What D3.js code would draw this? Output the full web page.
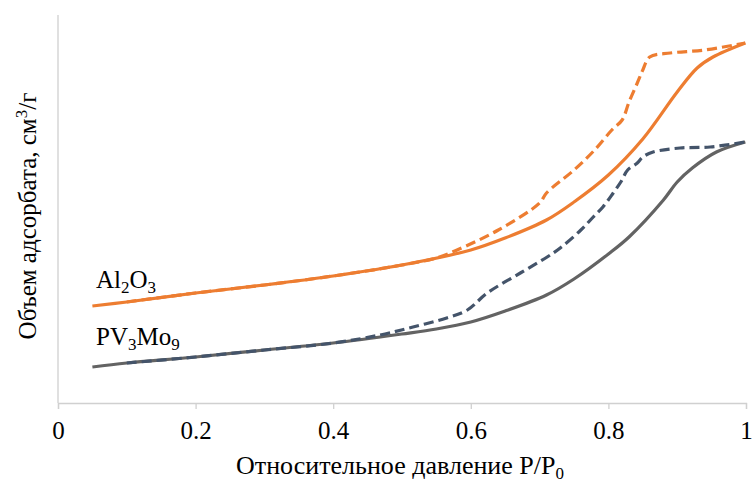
<!DOCTYPE html>
<html><head><meta charset="utf-8">
<script src="https://cdn.jsdelivr.net/npm/d3@7"></script>
<style>body{margin:0;background:#fff}svg{display:block}</style>
</head><body><svg id="c" width="752" height="482" font-family="Liberation Serif"></svg>
<script>
const xTicks = [0, 0.2, 0.4, 0.6, 0.8, 1];
const xTickLabels = ["0", "0.2", "0.4", "0.6", "0.8", "1"];

const al2o3AdsX = [0.05,0.1,0.2,0.3,0.4,0.5,0.6,0.65,0.71,0.75,0.8,0.85,0.9,0.929,0.952,0.999];
const al2o3AdsY = [97,101,110,118,127,138,153,165,183,201,228,264,311,335,346,360];
const al2o3DesX = [0.1,0.2,0.3,0.4,0.5,0.55,0.58,0.64,0.70,0.71,0.75,0.78,0.805,0.82,0.83,0.842,0.85,0.86,0.89,0.94,0.999];
const al2o3DesY = [101,110,118,127,138,145,153,173,200,210,233,253,273,283,301,320,333,346,350,353,360];

const pvAdsX = [0.05,0.1,0.2,0.3,0.4,0.5,0.55,0.6,0.65,0.71,0.75,0.8,0.83,0.88,0.9,0.922,0.957,0.999];
const pvAdsY = [36,40,46,53,60,69,74,81,92,108,124,149,166,203,221,235,251,261];
const pvDesX = [0.1,0.2,0.3,0.4,0.468,0.516,0.565,0.595,0.624,0.672,0.711,0.73,0.76,0.778,0.792,0.807,0.818,0.828,0.842,0.85,0.865,0.904,0.948,0.999];
const pvDesY = [40,46,53,60,68,76,85,93,110,130,146,155,173,186,196,210,221,233,240,246,251,255,256,261];

const svg = d3.select("#c");
const x = d3.scaleLinear().domain([0, 1]).range([58, 746]);
const y = d3.scaleLinear().domain([0, 388]).range([403, 15]);
const serif = "Liberation Serif";

// axes
svg.append("line").attr("x1", 58).attr("x2", 58).attr("y1", 15).attr("y2", 403)
  .attr("stroke", "#d0d0d0").attr("stroke-width", 1.3);
const xa = svg.append("g").attr("transform", "translate(0,403)")
  .call(d3.axisBottom(x).tickValues(xTicks).tickFormat((d, i) => xTickLabels[i]).tickSize(6).tickPadding(12));
xa.attr("font-family", serif).attr("font-size", 25);
xa.select(".domain").attr("stroke", "#d0d0d0").attr("stroke-width", 1.3);
xa.selectAll(".tick line").attr("stroke", "#d0d0d0").attr("stroke-width", 1.3);
xa.selectAll(".tick text").attr("font-family", serif).attr("font-size", 25).attr("fill", "#000");

const line = d3.line().x(d => x(d[0])).y(d => y(d[1])).curve(d3.curveCatmullRom.alpha(0.5));
const zip = (a, b) => a.map((v, i) => [v, b[i]]);

function draw(xs, ys, color, dash) {
  svg.append("path").attr("d", line(zip(xs, ys))).attr("fill", "none")
    .attr("stroke", color).attr("stroke-width", 3.2)
    .attr("stroke-dasharray", dash || null).attr("stroke-linejoin", "round");
}
draw(pvAdsX, pvAdsY, "#636363");
draw(pvDesX, pvDesY, "#44546A", "10,5");
draw(al2o3AdsX, al2o3AdsY, "#ED7D31");
draw(al2o3DesX, al2o3DesY, "#ED7D31", "10,5");

// series labels
const l1 = svg.append("text").attr("x", 96).attr("y", 288).attr("font-family", serif).attr("font-size", 25);
l1.append("tspan").text("Al");
l1.append("tspan").text("2").attr("font-size", 17).attr("dy", 5);
l1.append("tspan").text("O").attr("dy", -5);
l1.append("tspan").text("3").attr("font-size", 17).attr("dy", 5);
const l2 = svg.append("text").attr("x", 96).attr("y", 345).attr("font-family", serif).attr("font-size", 25);
l2.append("tspan").text("PV");
l2.append("tspan").text("3").attr("font-size", 17).attr("dy", 5);
l2.append("tspan").text("Mo").attr("dy", -5);
l2.append("tspan").text("9").attr("font-size", 17).attr("dy", 5);

// axis titles
const xt = svg.append("text").attr("x", 400).attr("y", 474).attr("text-anchor", "middle")
  .attr("font-family", serif).attr("font-size", 26);
xt.append("tspan").text("Относительное давление P/P");
xt.append("tspan").text("0").attr("font-size", 17).attr("dy", 5);

const yt = svg.append("text").attr("transform", "translate(36,216) rotate(-90)").attr("text-anchor", "middle")
  .attr("font-family", serif).attr("font-size", 25);
yt.append("tspan").text("Объем адсорбата, см");
yt.append("tspan").text("3").attr("font-size", 17).attr("dy", -9);
yt.append("tspan").text("/г").attr("dy", 9);
</script></body></html>
